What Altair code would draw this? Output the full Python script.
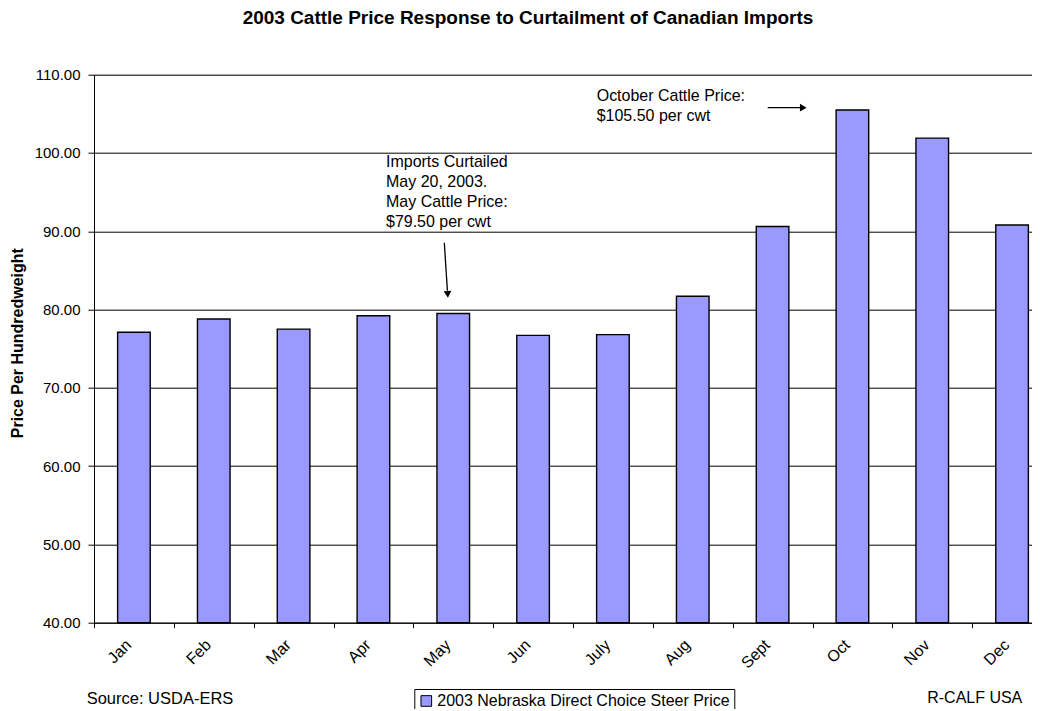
import altair as alt
import pandas as pd

months = ["Jan", "Feb", "Mar", "Apr", "May", "Jun", "July", "Aug", "Sept", "Oct", "Nov", "Dec"]
prices = [77.1, 78.8, 77.5, 79.2, 79.5, 76.7, 76.8, 81.7, 90.6, 105.5, 101.9, 90.8]
series_name = "2003 Nebraska Direct Choice Steer Price"
y_ticks = [40, 50, 60, 70, 80, 90, 100, 110]

title_text = "2003 Cattle Price Response to Curtailment of Canadian Imports"
y_title = "Price Per Hundredweight"
may_note = ["Imports Curtailed", "May 20, 2003.", "May Cattle Price:", "$79.50 per cwt"]
oct_note = ["October Cattle Price:", "$105.50 per cwt"]
source_note = "Source: USDA-ERS"
credit_note = "R-CALF USA"

FONT = "Liberation Sans"

df = pd.DataFrame({"month": months, "price": prices, "series": [series_name] * len(months)})
one = alt.Data(values=[{}])

W, H = 938, 548

bars = alt.Chart(df).mark_bar(size=32.6, stroke="black", strokeWidth=1.4).encode(
    x=alt.X(
        "month:N",
        sort=months,
        scale=alt.Scale(range=[0, 958], paddingInner=0, paddingOuter=0),
        axis=alt.Axis(
            title=None,
            labelAngle=-45,
            labelFontSize=16,
            labelFont=FONT,
            labelColor="black",
            labelAlign="right",
            labelBaseline="bottom",
            labelPadding=20,
            tickBand="extent",
            tickSize=5,
            tickColor="black",
            domainColor="black",
            grid=False,
        ),
    ),
    y=alt.Y(
        "price:Q",
        scale=alt.Scale(domain=[40, 110], nice=False, zero=False),
        axis=alt.Axis(
            title=y_title,
            values=y_ticks,
            format=".2f",
            labelFontSize=15,
            labelFont=FONT,
            labelColor="black",
            labelPadding=8,
            tickSize=6,
            tickColor="black",
            domainColor="black",
            grid=True,
            gridColor="black",
            gridOpacity=1,
            titleFont=FONT,
            titleFontSize=16,
            titleFontWeight="bold",
            titleColor="black",
            titleX=-76.5,
            titleY=268,
            titleAngle=270,
            titleAlign="center",
            titleBaseline="middle",
        ),
    ),
    y2=alt.datum(40),
    color=alt.Color(
        "series:N",
        scale=alt.Scale(range=["#9999ff"]),
        legend=alt.Legend(
            title=None,
            orient="none",
            legendX=320.3,
            legendY=614.3,
            strokeColor="black",
            fillColor="white",
            padding=4,
            labelFontSize=16,
            labelFont=FONT,
            labelColor="black",
            labelLimit=500,
            labelOffset=3,
            symbolType="square",
            symbolSize=114,
            symbolStrokeColor="black",
            symbolStrokeWidth=1,
            symbolFillColor="#9999ff",
        ),
    ),
)

may_text = alt.Chart(one).mark_text(
    text=may_note, align="left", baseline="alphabetic", fontSize=16, lineHeight=20, font=FONT, color="black"
).encode(x=alt.value(292), y=alt.value(92.8))

oct_text = alt.Chart(one).mark_text(
    text=oct_note, align="left", baseline="alphabetic", fontSize=16, lineHeight=20, font=FONT, color="black"
).encode(x=alt.value(502.7), y=alt.value(26))

may_line = alt.Chart(one).mark_rule(color="black", strokeWidth=1.3).encode(
    x=alt.value(350.3), y=alt.value(168), x2=alt.value(353.4), y2=alt.value(216)
)
may_head = alt.Chart(one).mark_point(
    shape="triangle-down", filled=True, size=60, color="black", opacity=1, angle=356
).encode(x=alt.value(353.7), y=alt.value(219.6))

oct_line = alt.Chart(one).mark_rule(color="black", strokeWidth=1.3).encode(
    x=alt.value(673.7), y=alt.value(33), x2=alt.value(706), y2=alt.value(33)
)
oct_head = alt.Chart(one).mark_point(
    shape="triangle-right", filled=True, size=60, color="black", opacity=1
).encode(x=alt.value(709.3), y=alt.value(33))

source_text = alt.Chart(one).mark_text(
    text=source_note, align="left", baseline="alphabetic", fontSize=16.5, font=FONT, color="black"
).encode(x=alt.value(-7.3), y=alt.value(629.3))

credit_text = alt.Chart(one).mark_text(
    text=credit_note, align="right", baseline="alphabetic", fontSize=16, font=FONT, color="black"
).encode(x=alt.value(928.3), y=alt.value(628.6))

chart = alt.layer(
    bars, may_text, oct_text, may_line, may_head, oct_line, oct_head, source_text, credit_text
).properties(
    width=W,
    height=H,
    title=alt.Title(
        title_text,
        fontSize=19,
        font=FONT,
        fontWeight="bold",
        color="black",
        anchor="middle",
        dx=-35,
        offset=24.5,
        baseline="alphabetic",
    ),
    autosize=alt.AutoSizeParams(type="none"),
    padding={"left": 86, "top": 66.7, "right": 0, "bottom": 86},
).configure_view(stroke=None).configure(background="white")

chart.save("out.html", embed_options={"renderer": "svg", "actions": False})
